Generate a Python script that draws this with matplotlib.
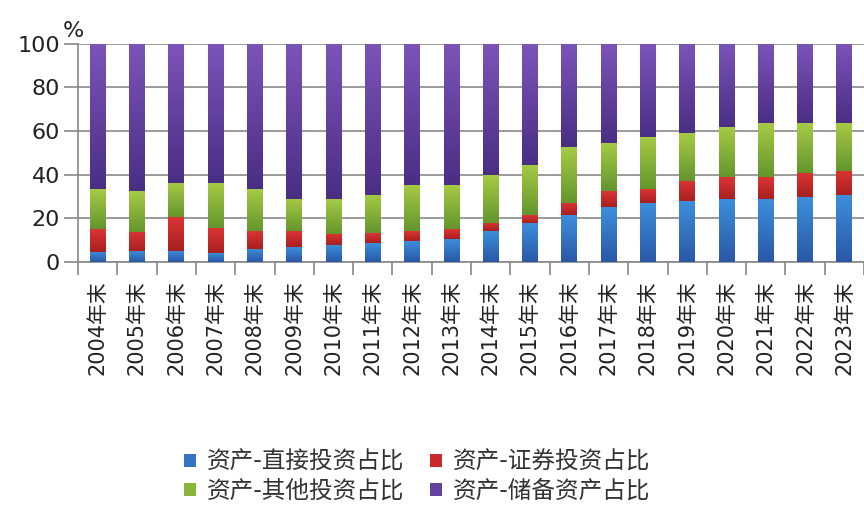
import matplotlib
matplotlib.use("Agg")
import matplotlib.pyplot as plt
from matplotlib.colors import LinearSegmentedColormap
import numpy as np

plt.rcParams['font.family'] = ['DejaVu Sans', 'Noto Sans CJK SC']

years = ["2004年末", "2005年末", "2006年末", "2007年末", "2008年末", "2009年末", "2010年末",
         "2011年末", "2012年末", "2013年末", "2014年末", "2015年末", "2016年末", "2017年末",
         "2018年末", "2019年末", "2020年末", "2021年末", "2022年末", "2023年末"]
direct = [4.8, 5.2, 5.2, 4.4, 6.1, 7.0, 7.9, 8.8, 9.9, 10.7, 14.3, 18.0, 21.6, 25.3,
          27.1, 28.0, 29.0, 29.0, 29.9, 30.8]
securities = [10.3, 8.8, 15.4, 11.4, 8.2, 7.3, 5.2, 4.5, 4.4, 4.5, 3.8, 3.6, 5.5, 7.3,
              6.4, 9.2, 10.0, 10.0, 11.0, 11.0]
other = [18.3, 18.6, 15.8, 20.5, 19.1, 14.7, 15.9, 17.5, 21.1, 20.2, 21.8, 22.9, 25.6, 22.0,
         23.8, 21.9, 22.9, 24.7, 22.8, 21.9]
reserve = [100 - a - b - c for a, b, c in zip(direct, securities, other)]

labels = ["资产-直接投资占比", "资产-证券投资占比", "资产-其他投资占比", "资产-储备资产占比"]
colors = ["#3673c4", "#c82a2a", "#8ab43a", "#6442a0"]
grad = [("#2a58a6", "#3d8fdc"), ("#a82020", "#dc3434"),
        ("#64962e", "#a6ca44"), ("#4a2e84", "#7c54b8")]

fig = plt.figure(figsize=(8.64, 5.08), dpi=100)
ax = fig.add_axes([0.0903, 0.484, 0.9097, 0.43])

x = np.arange(len(years))
w = 0.4
bottom = np.zeros(len(years))
handles = []
gimg = np.linspace(0, 1, 64).reshape(-1, 1)
for vals, c, lab, (lo, hi) in zip([direct, securities, other, reserve], colors, labels, grad):
    bars = ax.bar(x, vals, w, bottom=bottom, color=c, label=lab, zorder=3)
    handles.append(bars)
    cmap = LinearSegmentedColormap.from_list("g", [lo, hi])
    for b in bars:
        x0, y0 = b.get_x(), b.get_y()
        im = ax.imshow(gimg, cmap=cmap, origin='lower', aspect='auto',
                       extent=[x0, x0 + b.get_width(), y0, y0 + b.get_height()],
                       zorder=4, interpolation='bilinear')
        im.set_clip_path(b)
    bottom += np.array(vals)

ax.set_ylim(0, 100)
ax.set_xlim(-0.5, len(years) - 0.5)
ax.set_yticks([0, 20, 40, 60, 80, 100])
ax.tick_params(axis='y', labelsize=16, colors='#222222', length=10, width=1.2, color='#888888', pad=3)
ax.yaxis.grid(True, color='#8a8a8a', linewidth=1.2, zorder=0)
ax.set_axisbelow(True)

ax.set_xticks(x)
ax.set_xticklabels(years, rotation=90, fontsize=15, color='#222222')
ax.tick_params(axis='x', length=0, pad=13)
ax.set_xticks(np.arange(-0.5, len(years), 1), minor=True)
ax.tick_params(axis='x', which='minor', length=9, color='#888888', width=1.2)

for s in ['top', 'right']:
    ax.spines[s].set_visible(False)
ax.spines['left'].set_color('#888888')
ax.spines['bottom'].set_color('#888888')
ax.spines['left'].set_linewidth(1.2)
ax.spines['bottom'].set_linewidth(1.2)

fig.text(63 / 864, 1 - 37 / 508, "%", fontsize=16, color='#222222', ha='left', va='baseline')

order = [0, 2, 1, 3]
fig.legend(handles=[handles[i] for i in order], labels=[labels[i] for i in order],
           loc='center', bbox_to_anchor=(0.483, 0.062),
           ncol=2, frameon=False, fontsize=17, handlelength=0.5, handleheight=0.5,
           columnspacing=1.1, handletextpad=0.45, labelspacing=0.2,
           labelcolor='#333333')

fig.savefig("out.png", dpi=100)
